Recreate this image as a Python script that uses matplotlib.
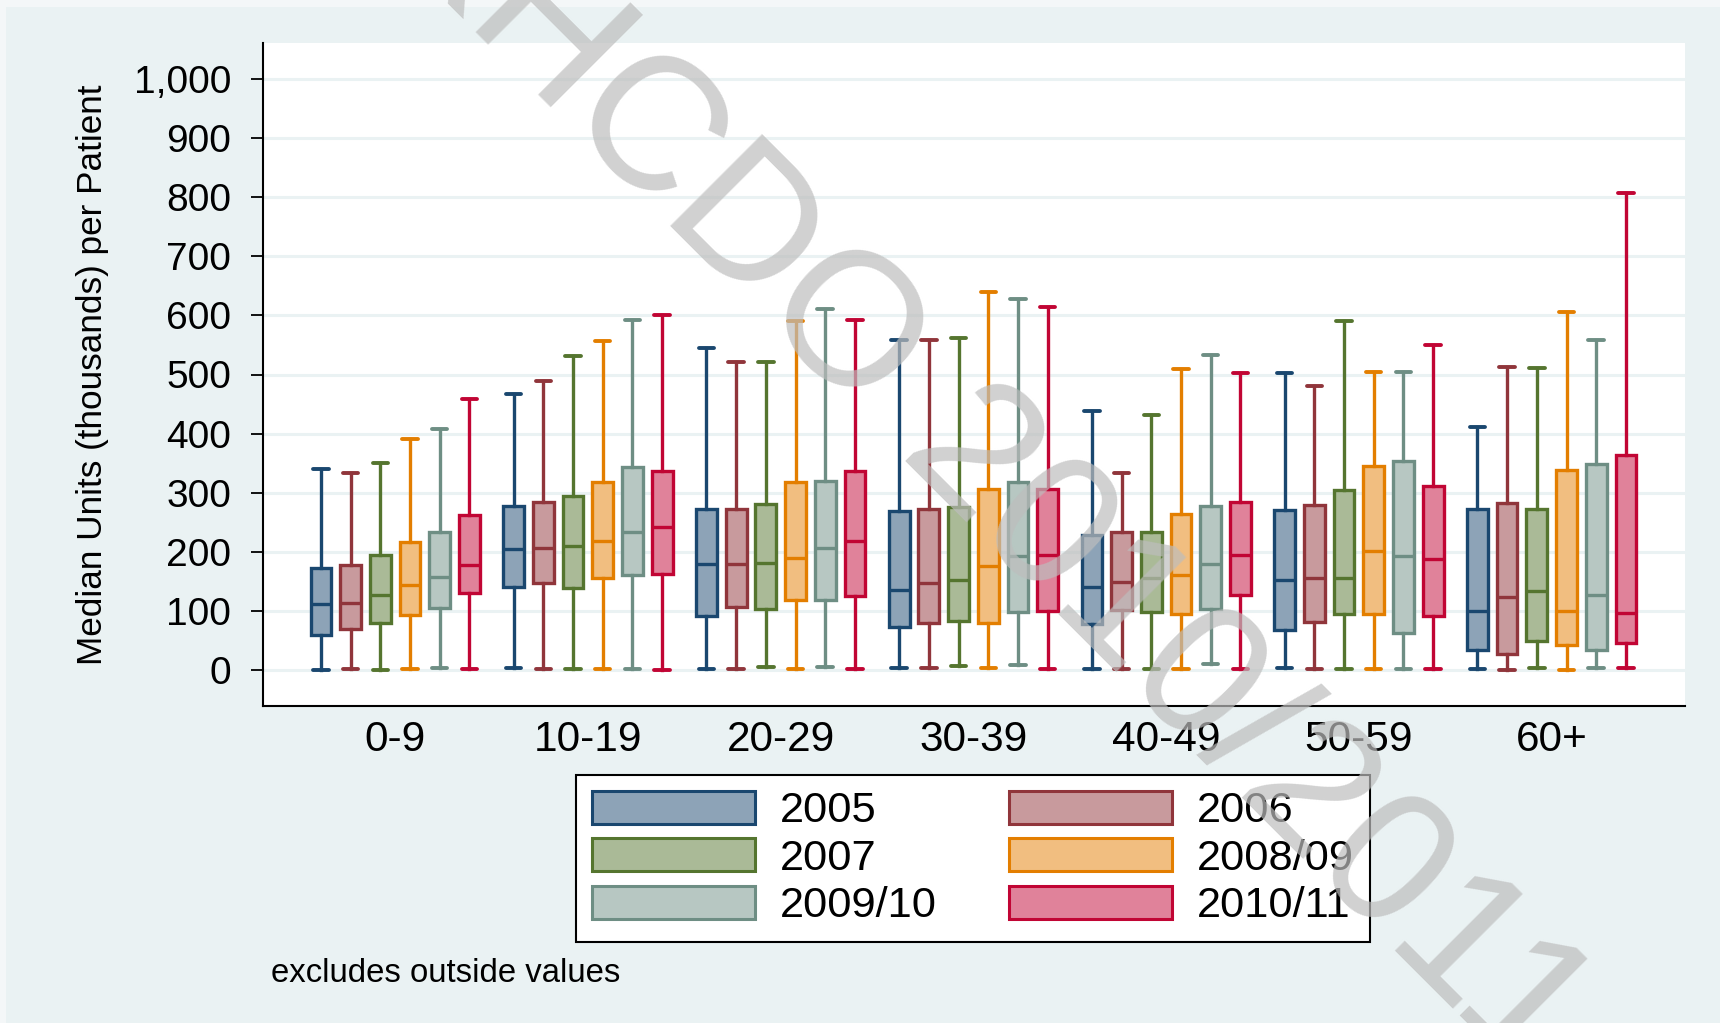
import matplotlib
matplotlib.use("Agg")
import matplotlib.pyplot as plt
from matplotlib.patches import Patch, Rectangle
from matplotlib.ticker import FuncFormatter, MultipleLocator

plt.rcParams['font.family'] = ['Liberation Sans', 'DejaVu Sans']

# ---------------- data ----------------
age_groups = ["0-9", "10-19", "20-29", "30-39", "40-49", "50-59", "60+"]
years = ["2005", "2006", "2007", "2008/09", "2009/10", "2010/11"]

# per year: lists over age groups (values in thousands of units)
whislo = {
    "2005":    [0, 3, 2, 4, 1, 4, 2],
    "2006":    [2, 2, 2, 3, 1, 1, 0],
    "2007":    [0, 2, 5, 6, 2, 2, 3],
    "2008/09": [2, 2, 2, 3, 1, 1, 0],
    "2009/10": [3, 1, 5, 8, 10, 1, 3],
    "2010/11": [1, 0, 1, 1, 2, 2, 3],
}
q1 = {
    "2005":    [59, 141, 92, 72, 78, 67, 33],
    "2006":    [69, 147, 106, 80, 101, 82, 27],
    "2007":    [79, 138, 103, 83, 98, 94, 49],
    "2008/09": [93, 156, 119, 80, 95, 95, 42],
    "2009/10": [105, 160, 119, 98, 103, 63, 34],
    "2010/11": [130, 162, 125, 100, 127, 92, 46],
}
median = {
    "2005":    [112, 204, 180, 135, 141, 153, 99],
    "2006":    [114, 206, 180, 148, 149, 155, 123],
    "2007":    [127, 209, 181, 153, 156, 155, 133],
    "2008/09": [144, 219, 190, 176, 161, 201, 100],
    "2009/10": [158, 234, 207, 193, 179, 193, 127],
    "2010/11": [177, 242, 219, 194, 194, 187, 97],
}
q3 = {
    "2005":    [172, 278, 273, 269, 228, 271, 273],
    "2006":    [177, 285, 272, 273, 234, 280, 282],
    "2007":    [194, 295, 281, 275, 234, 305, 273],
    "2008/09": [216, 318, 318, 306, 264, 346, 338],
    "2009/10": [233, 343, 319, 318, 278, 354, 349],
    "2010/11": [262, 337, 336, 307, 285, 311, 363],
}
whishi = {
    "2005":    [340, 467, 545, 559, 438, 502, 412],
    "2006":    [334, 489, 521, 559, 334, 481, 512],
    "2007":    [351, 531, 521, 562, 431, 590, 511],
    "2008/09": [391, 556, 590, 640, 510, 505, 605],
    "2009/10": [408, 592, 611, 628, 533, 505, 559],
    "2010/11": [459, 600, 592, 614, 502, 550, 807],
}

edge_colors = ["#1A476F", "#90353B", "#55752F", "#E37E00", "#6E8E84", "#C10534"]
fill_colors = ["#8DA3B7", "#C89A9D", "#AABA97", "#F1BE80", "#B7C7C2", "#E0829A"]

y_ticks = list(range(0, 1001, 100))
y_label = "Median Units (thousands) per Patient"
note = "excludes outside values"
watermark = "UKHCDO 2010/2011"

# ---------------- layout ----------------
W, H = 1720, 1023
BG = "#EAF2F3"
fig = plt.figure(figsize=(W / 100, H / 100), dpi=100)
fig.patch.set_facecolor("#F4F7F8")
fig.add_artist(Rectangle((6 / W, 0), 1, 1 - 7 / H, transform=fig.transFigure,
                         facecolor=BG, edgecolor="none", zorder=0))

ax = fig.add_axes([263 / W, 1 - 706 / H, (1685 - 263) / W, (706 - 43) / H])
ax.set_facecolor("white")

group_step = 6.49
lw = 2.4
for j, yr in enumerate(years):
    stats = []
    pos = []
    for g in range(len(age_groups)):
        stats.append(dict(med=median[yr][g], q1=q1[yr][g], q3=q3[yr][g],
                          whislo=whislo[yr][g], whishi=whishi[yr][g], fliers=[]))
        pos.append(g * group_step + j)
    ax.bxp(stats, positions=pos, widths=0.70, capwidths=0.52, patch_artist=True,
           showfliers=False, manage_ticks=False,
           boxprops=dict(facecolor=fill_colors[j], edgecolor=edge_colors[j], linewidth=lw),
           medianprops=dict(color=edge_colors[j], linewidth=lw),
           whiskerprops=dict(color=edge_colors[j], linewidth=lw),
           capprops=dict(color=edge_colors[j], linewidth=lw + 0.4, solid_capstyle="round"))

ax.set_xlim(-1.95, 45.93)
ax.set_ylim(-61, 1061)
centers = [g * group_step + 2.5 for g in range(len(age_groups))]
ax.set_xticks(centers)
ax.set_xticklabels(age_groups, fontsize=30.5)
ax.tick_params(axis="x", length=0, pad=10)
ax.yaxis.set_major_locator(MultipleLocator(100))
ax.set_yticks(y_ticks)
ax.yaxis.set_major_formatter(FuncFormatter(lambda v, p: f"{int(v):,}"))
ax.tick_params(axis="y", labelsize=28, length=9, width=1.3, pad=14, colors="black")
ax.set_ylabel(y_label, fontsize=25.3, labelpad=18)

ax.yaxis.grid(True, color=BG, linewidth=2.2)
ax.set_axisbelow(True)
for s in ["top", "right"]:
    ax.spines[s].set_visible(False)
for s in ["left", "bottom"]:
    ax.spines[s].set_color("black")
    ax.spines[s].set_linewidth(1.5)

# legend (row-major order in 2 columns)
order = [0, 2, 4, 1, 3, 5]
handles = [Patch(facecolor=fill_colors[i], edgecolor=edge_colors[i], linewidth=2.2) for i in order]
labels = [years[i] for i in order]
leg = ax.legend(handles, labels, ncol=2, loc="upper center",
                bbox_to_anchor=(973 / W, 1 - 774.5 / H), bbox_transform=fig.transFigure,
                fontsize=31.2, handlelength=3.75, handleheight=0.8, handletextpad=0.57,
                columnspacing=1.68, labelspacing=0.16, borderpad=0.37, borderaxespad=0,
                frameon=True, fancybox=False, edgecolor="black", framealpha=1)
leg.get_frame().set_linewidth(1.5)

fig.text(271 / W, 1 - 973 / H, note, fontsize=23.7, ha="left", va="center")

fig.text(935 / W, 1 - 422 / H, watermark, rotation=-45, rotation_mode="anchor",
         ha="center", va="center", fontsize=137, color="#BDBDBD", alpha=0.7, zorder=100)

fig.savefig("out.png", dpi=100, facecolor=fig.get_facecolor())
